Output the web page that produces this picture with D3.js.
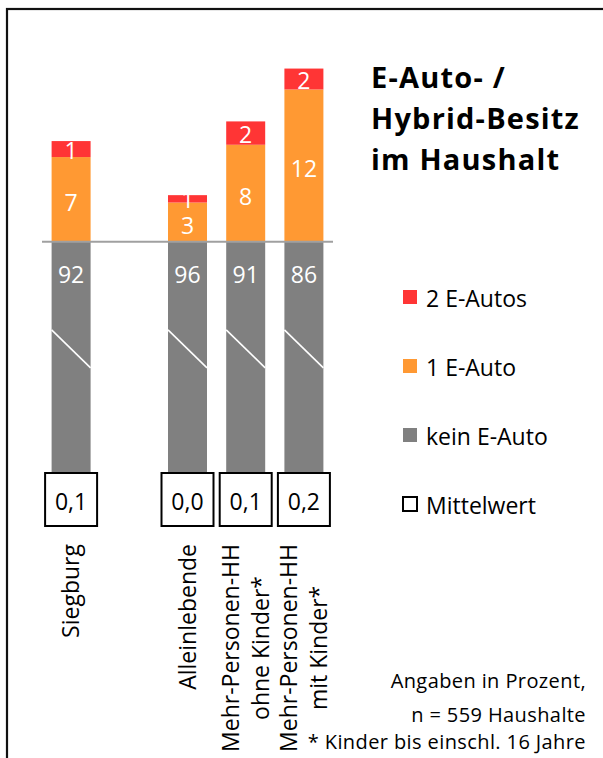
<html lang="de">
<head>
  <meta charset="UTF-8"/>
  <title>E-Auto- / Hybrid-Besitz im Haushalt</title>
  <script src="https://d3js.org/d3.v7.min.js"></script>
  <style>
    body { margin: 0; background: #fff; }
    svg { display: block; font-family: 'Open Sans', sans-serif; }
    .value { fill: #fff; font-size: 23px; text-anchor: middle; }
    .legend text, .axis-label, .mean text { fill: #000; font-size: 23px; }
    .title { font-weight: bold; font-size: 29px; letter-spacing: 1.2px; }
    .note { font-size: 20px; text-anchor: end; letter-spacing: 0.4px; }
  </style>
</head>
<body>
  <svg width="603" height="758"></svg>

  <script>

  // categories, one gap slot after Siegburg
  const categories = ['Siegburg', 'Alleinlebende', 'Mehr-Personen-HH ohne Kinder*', 'Mehr-Personen-HH mit Kinder*'];
  const categoryLines = [
    ['Siegburg'],
    ['Alleinlebende'],
    ['Mehr-Personen-HH', 'ohne Kinder*'],
    ['Mehr-Personen-HH', 'mit Kinder*']
  ];

  // shares in percent
  const keinEAuto = [92, 96, 91, 86];
  const einEAuto = [6.9, 3.2, 7.9, 12.4];
  const zweiEAutos = [1.3, 0.6, 1.9, 1.7];
  const mittelwert = [0.1, 0.0, 0.1, 0.2];

  const seriesNames = ['2 E-Autos', '1 E-Auto', 'kein E-Auto', 'Mittelwert'];
  const titleLines = ['E-Auto- /', 'Hybrid-Besitz', 'im Haushalt'];
  const noteLines = ['Angaben in Prozent,', 'n = 559 Haushalte', '* Kinder bis einschl. 16 Jahre'];

  const colors = {
    zwei: '#ff3535',
    eins: '#ff9933',
    kein: '#808080'
  };

  const svg = d3.select('svg');

  // outer frame, runs off the right and bottom edge
  svg.append('rect')
    .attr('x', 7)
    .attr('y', 9)
    .attr('width', 640)
    .attr('height', 800)
    .attr('fill', 'none')
    .attr('stroke', '#111')
    .attr('stroke-width', 2.2);

  const xScale = d3.scaleBand()
    .domain([categories[0], 'gap', ...categories.slice(1)])
    .range([42, 333])
    .paddingInner(0.33)
    .paddingOuter(0.165);

  // the "kein E-Auto" part is cut off (broken bar), so the scale clamps
  const yScale = d3.scaleLinear()
    .domain([-23.2, 15])
    .range([527, 57.5])
    .clamp(true);

  const data = categories.map((c, i) => ({
    cat: c,
    lines: categoryLines[i],
    kein: keinEAuto[i],
    eins: einEAuto[i],
    zwei: zweiEAutos[i],
    mean: mittelwert[i]
  }));

  const bw = xScale.bandwidth();
  const cx = (d) => xScale(d.cat) + bw / 2;
  const y0 = yScale(0);

  const bars = svg.append('g')
    .selectAll('g')
    .data(data)
    .join('g');

  // kein E-Auto (downwards, truncated)
  bars.append('rect')
    .attr('x', (d) => xScale(d.cat))
    .attr('y', y0)
    .attr('width', bw)
    .attr('height', (d) => yScale(-d.kein) - y0)
    .attr('fill', colors.kein);

  // break marks
  bars.append('line')
    .attr('x1', (d) => xScale(d.cat))
    .attr('x2', (d) => xScale(d.cat) + bw)
    .attr('y1', y0 + 88)
    .attr('y2', y0 + 126)
    .attr('stroke', '#fff')
    .attr('stroke-width', 1.6);

  // 1 E-Auto
  bars.append('rect')
    .attr('x', (d) => xScale(d.cat))
    .attr('y', (d) => yScale(d.eins))
    .attr('width', bw)
    .attr('height', (d) => y0 - yScale(d.eins))
    .attr('fill', colors.eins);

  // 2 E-Autos
  bars.append('rect')
    .attr('x', (d) => xScale(d.cat))
    .attr('y', (d) => yScale(d.eins + d.zwei))
    .attr('width', bw)
    .attr('height', (d) => yScale(d.eins) - yScale(d.eins + d.zwei))
    .attr('fill', colors.zwei);

  // zero line
  svg.append('line')
    .attr('x1', xScale.range()[0])
    .attr('x2', xScale.range()[1])
    .attr('y1', y0)
    .attr('y2', y0)
    .attr('stroke', '#a0a0a0')
    .attr('stroke-width', 2);

  // value labels
  bars.append('text')
    .attr('class', 'value')
    .attr('x', cx)
    .attr('y', y0 + 41)
    .text((d) => d3.format('.0f')(d.kein));

  bars.append('text')
    .attr('class', 'value')
    .attr('x', cx)
    .attr('y', (d) => (y0 + yScale(d.eins)) / 2 + 11.5)
    .text((d) => d3.format('.0f')(d.eins));

  bars.append('text')
    .attr('class', 'value')
    .attr('x', cx)
    .attr('y', (d) => (yScale(d.eins) + yScale(d.eins + d.zwei)) / 2 + 9.5)
    .text((d) => d3.format('.0f')(d.zwei));

  // Mittelwert boxes
  const mean = bars.append('g')
    .attr('class', 'mean');

  mean.append('rect')
    .attr('x', (d) => cx(d) - 26)
    .attr('y', 473)
    .attr('width', 52)
    .attr('height', 53)
    .attr('fill', '#fff')
    .attr('stroke', '#000')
    .attr('stroke-width', 2);

  mean.append('text')
    .attr('x', cx)
    .attr('y', 509.5)
    .attr('text-anchor', 'middle')
    .text((d) => d3.format('.1f')(d.mean).replace('.', ','));

  // rotated category labels, top aligned, lines centred on each other
  bars.append('g')
    .attr('class', 'axis-label')
    .attr('transform', (d) => `translate(${cx(d)}, 544) rotate(-90)`)
    .each(function (d) {
      const g = d3.select(this);
      const n = d.lines.length;
      const texts = g.selectAll('text')
        .data(d.lines)
        .join('text')
        .attr('y', (l, i) => 8 + (i - (n - 1) / 2) * 30)
        .text((l) => l);
      const longest = d3.max(texts.nodes(), (t) => t.getComputedTextLength());
      texts
        .attr('x', -longest / 2)
        .attr('text-anchor', 'middle');
    });

  // title
  svg.append('text')
    .attr('class', 'title')
    .selectAll('tspan')
    .data(titleLines)
    .join('tspan')
    .attr('x', 371)
    .attr('y', (d, i) => 88 + i * 41)
    .text((d) => d);

  // legend
  const legend = svg.append('g')
    .attr('class', 'legend')
    .selectAll('g')
    .data(seriesNames)
    .join('g')
    .attr('transform', (d, i) => `translate(403, ${290 + i * 69})`);

  legend.append('rect')
    .attr('width', 14)
    .attr('height', 14)
    .attr('fill', (d, i) => [colors.zwei, colors.eins, colors.kein, '#fff'][i])
    .attr('stroke', (d, i) => (i === 3 ? '#000' : 'none'))
    .attr('stroke-width', 2);

  legend.append('text')
    .attr('x', 23)
    .attr('y', 16.5)
    .text((d) => d);

  // notes
  svg.append('g')
    .selectAll('text')
    .data(noteLines)
    .join('text')
    .attr('class', 'note')
    .attr('x', 586)
    .attr('y', (d, i) => [688, 722, 749][i])
    .text((d) => d);

  </script>
</body>
</html>
